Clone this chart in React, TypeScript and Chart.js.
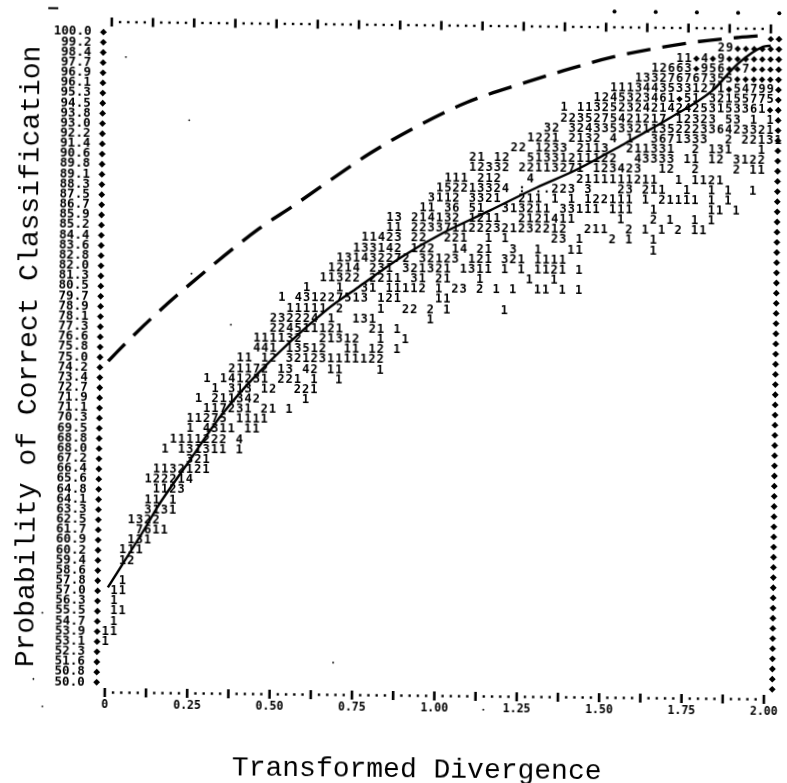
import React, { useEffect, useRef } from "react";
import { Chart, registerables } from "chart.js";

Chart.register(...registerables);

const ROW_STEP = 50 / 64;
const COL_STEP = 0.025;

const yRowLabels = [
  "100.0","99.2","98.4","97.7","96.9","96.1","95.3","94.5","93.8","93.0","92.2","91.4","90.6",
  "89.8","89.1","88.3","87.5","86.7","85.9","85.2","84.4","83.6","82.8","82.0","81.3","80.5",
  "79.7","78.9","78.1","77.3","76.6","75.8","75.0","74.2","73.4","72.7","71.9","71.1","70.3",
  "69.5","68.8","68.0","67.2","66.4","65.6","64.8","64.1","63.3","62.5","61.7","60.9","60.2",
  "59.4","58.6","57.8","57.0","56.3","55.5","54.7","53.9","53.1","52.3","51.6","50.8","50.0",
];
const xTickValues = [0, 0.25, 0.5, 0.75, 1, 1.25, 1.5, 1.75, 2];
const xTickLabels = ["0", "0.25", "0.50", "0.75", "1.00", "1.25", "1.50", "1.75", "2.00"];

const solidX = [0.006,0.122,0.151,0.255,0.338,0.448,0.66,0.757,0.884,1.01,1.154,1.295,1.415,1.564,1.693,1.825,1.902,1.977,2.0];
const solidY = [57.3,62.1,63.4,67.3,70.4,73.7,78.8,80.6,82.9,84.8,86.6,88.4,89.8,91.9,93.8,96.0,98.1,99.4,99.5];
const dashedX = [0,0.041,0.145,0.283,0.453,0.557,0.713,0.788,0.922,1.081,1.261,1.372,1.522,1.742,1.902,1.992];
const dashedY = [74.7,75.8,78.4,81.5,85.0,86.8,89.6,90.9,92.9,94.9,96.5,97.4,98.5,99.6,100.1,100.3];

// printed cells: [row index in yRowLabels, first column, printed text]; column 0 is x = 0, one column is 0.025
const printedCells: [number, number, string][] = [
  [0, 80, "*"],
  [1, 74, "29****"], [1, 80, "*"],
  [2, 69, "11*4*9******"],
  [3, 66, "12663*956**7***"],
  [4, 64, "133276767355*****"],
  [5, 61, "1113443533127" + "1*54799"],
  [6, 59, "1245323461*51 32155775"],
  [7, 55, "1 11325232421424253153361*"],
  [8, 55, "2235275421217 12323 53 1 1"],
  [9, 53, "32 324335332113522233642332" + "1"],
  [10, 51, "1221 2132 4 1  3671333  2 22131"],
  [11, 49, "22 1233 2113  211331  2 131   1"],
  [12, 44, "21 12  51331211122  43333 11 12 3122"],
  [13, 44, "12332 22113271 123423  12  2    2 11"],
  [14, 41, "111 212   4  " ],
  [14, 57, "2111111211  1 1121"],
  [15, 40, "152213324 : ..223 3   23 211  1  1 1  1"],
  [16, 39, "3112 3321  211 1 1 122111 1 21111 1 1"],
  [17, 38, "11 36 51  313211 33111 111  1      11 1"],
  [18, 34, "13 214132 1211  2121411     1   2 1  1 1"],
  [19, 34, "11 2233711222321232212  211  2 1 1 2 11"],
  [20, 31, "11423 22  221  1 1     23 1   2 1  1"],
  [21, 30, "133142 122  14 21  3  1   11        1"],
  [22, 28, "131432272 32123 121 321 1111"],
  [23, 27, "1214 231 321321 1311 1 1 1121 1"],
  [24, 26, "11322 2211 31 21   1     1  1"],
  [25, 24, "1   1  31 11112 1 23 2 1 1  11 1 1"],
  [26, 21, "1 431227513 121    11"],
  [27, 22, "11111 2    1  22 2 1      1"],
  [28, 20, "232224 1  131      1"],
  [29, 20, "224511121   21 1"],
  [30, 18, "111132  21312  1  1"],
  [31, 18, "441 13512  11 12 1"],
  [32, 16, "11 12 321231111122"],
  [33, 15, "21172 13 42 11    1"],
  [34, 12, "1 141231 221 1  1"],
  [35, 13, "1 313 12  221"],
  [36, 11, "1 211342     1"],
  [37, 12, "117231 21 1"],
  [38, 10, "11275 1111"],
  [39, 10, "1 4311 11"],
  [40, 8, "1111222 4"],
  [41, 7, "1 131311 1"],
  [42, 10, "321"],
  [43, 6, "1132121"],
  [44, 5, "122214"],
  [45, 6, "1123"],
  [46, 5, "11 1"],
  [47, 5, "3131"],
  [48, 3, "1322"],
  [49, 4, "7611"],
  [50, 3, "131"],
  [51, 2, "111"],
  [52, 2, "12"],
  [54, 2, "1"],
  [55, 1, "11"],
  [56, 1, "1"],
  [57, 1, "11"],
  [58, 1, "1"],
  [59, 0, "11"],
  [60, 0, "1"],
];

const frameColumns = Array.from({ length: 81 }, (_, i) => i);
const topSpotX = [1.525, 1.65, 1.775, 1.9, 2.025];
const topSpotY = [102, 102, 102, 102, 102];
const speckX = [0.044, 0.238, 0.25, 0.371, -0.192, 0.692, -0.217, -0.189, 1.149];
const speckY = [98.1, 93.3, 81.5, 77.6, 55.3, 51.7, 50.2, 48.1, 48.2];
const scanDashX = [-0.178];
const scanDashY = [101.8];

const rowValue = (r: number) => 100 - r * ROW_STEP;
const zip = (xs: number[], ys: number[]) => xs.map((x, i) => ({ x, y: ys[i] }));

const digitPoints: { x: number; y: number; ch: string }[] = [];
const starPoints: { x: number; y: number }[] = [];
for (const [row, col, text] of printedCells) {
  [...text].forEach((ch, i) => {
    if (ch === " ") return;
    const p = { x: (col + i) * COL_STEP, y: rowValue(row) };
    if (ch === "*") starPoints.push(p);
    else digitPoints.push({ ...p, ch });
  });
}

const digitLabels = {
  id: "digitLabels",
  afterDatasetsDraw(chart: any) {
    const ctx = chart.ctx;
    const { x: sx, y: sy } = chart.scales;
    ctx.save();
    ctx.fillStyle = "#000";
    chart.data.datasets.forEach((ds: any, i: number) => {
      if (ds.label !== "Printed counts") return;
      const meta = chart.getDatasetMeta(i);
      ctx.font = "bold 12px 'DejaVu Sans Mono'";
      ctx.textAlign = "center";
      ctx.textBaseline = "middle";
      meta.data.forEach((el: any, k: number) => ctx.fillText(ds.data[k].ch, el.x, el.y));
    });
    // marks that lie outside the plot frame
    const spot = (x: number, y: number, r: number) => {
      ctx.beginPath();
      ctx.arc(sx.getPixelForValue(x), sy.getPixelForValue(y), r, 0, Math.PI * 2);
      ctx.fill();
    };
    zip(topSpotX, topSpotY).forEach((p) => spot(p.x, p.y, 2));
    zip(speckX, speckY).forEach((p) => spot(p.x, p.y, 0.9));
    zip(scanDashX, scanDashY).forEach((p) => {
      ctx.fillRect(sx.getPixelForValue(p.x) - 5, sy.getPixelForValue(p.y) - 1, 10, 2);
    });
    ctx.restore();
  },
};

export default function App() {
  const ref = useRef<HTMLCanvasElement>(null);
  useEffect(() => {
    document.body.style.margin = "0";
    document.body.style.background = "#fff";
    document.body.style.overflow = "hidden";
    const dots = (data: any[], label: string, extra: any) => ({
      type: "scatter",
      label,
      data,
      clip: false,
      showLine: false,
      pointBackgroundColor: "#000",
      pointBorderColor: "#000",
      pointBorderWidth: 0,
      ...extra,
    });
    const frameRowPts = (y: number, ticks: boolean) =>
      frameColumns.filter((c) => (c % 5 === 0) === ticks).map((c) => ({ x: c * COL_STEP, y }));
    const leftPts = yRowLabels.map((_, r) => ({ x: -COL_STEP, y: rowValue(r) }));
    const rightPts = yRowLabels.map((_, r) => ({ x: 2 + COL_STEP, y: rowValue(r) }));
    const chart = new Chart(ref.current!, {
      type: "scatter",
      plugins: [digitLabels],
      data: {
        datasets: [
          dots(leftPts, "Left frame", { pointStyle: "rectRot", pointRadius: 3.4 }),
          dots(rightPts, "Right frame", { pointStyle: "rectRot", pointRadius: 3.4 }),
          dots(starPoints, "Printed stars", { pointStyle: "rectRot", pointRadius: 3.2 }),
          dots([...frameRowPts(100 + ROW_STEP, false), ...frameRowPts(50 - ROW_STEP, false)], "Frame dots", { pointStyle: "rect", pointRadius: 1.7 }),
          dots([...frameRowPts(100 + ROW_STEP, true), ...frameRowPts(50 - ROW_STEP, true)], "Frame ticks", { pointStyle: "line", rotation: 90, pointRadius: 4.5, pointBorderWidth: 2.6 }),
          dots(digitPoints, "Printed counts", { pointRadius: 0 }),
          {
            type: "line",
            label: "Fitted",
            data: zip(solidX, solidY),
            borderColor: "#000",
            borderWidth: 2.4,
            pointRadius: 0,
            cubicInterpolationMode: "monotone",
            clip: false,
          },
          {
            type: "line",
            label: "Bound",
            data: zip(dashedX, dashedY),
            borderColor: "#000",
            borderWidth: 3.4,
            borderDash: [24, 12],
            pointRadius: 0,
            cubicInterpolationMode: "monotone",
            clip: false,
          },
        ] as any,
      },
      options: {
        animation: false,
        responsive: false,
        layout: { padding: { top: 25, right: 6.7, left: 0, bottom: 0 } },
        plugins: { legend: { display: false }, tooltip: { enabled: false } },
        scales: {
          x: {
            type: "linear",
            min: -COL_STEP,
            max: 2 + COL_STEP,
            grid: { display: false, drawTicks: false },
            border: { display: false },
            afterFit: (s: any) => { s.height = 87.5; },
            afterBuildTicks: (s: any) => { s.ticks = xTickValues.map((value) => ({ value })); },
            ticks: {
              autoSkip: false,
              maxRotation: 0,
              padding: 6,
              color: "#000",
              font: { family: "'DejaVu Sans Mono'", weight: "bold", size: 11.5 },
              callback: (_v: any, i: number) => xTickLabels[i],
            },
            title: {
              display: true,
              text: "Transformed Divergence  ",
              color: "#000",
              font: { family: "'Liberation Mono'", size: 28 },
              padding: { top: 0, bottom: -3 },
            },
          },
          y: {
            type: "linear",
            min: 50 - ROW_STEP,
            max: 100 + ROW_STEP,
            grid: { display: false, drawTicks: false },
            border: { display: false },
            afterFit: (s: any) => { s.width = 99.7; },
            afterBuildTicks: (s: any) => { s.ticks = yRowLabels.map((_, r) => ({ value: rowValue(r) })); },
            ticks: {
              autoSkip: false,
              padding: 12,
              color: "#000",
              font: { family: "'DejaVu Sans Mono'", weight: "bold", size: 12.5 },
              callback: (_v: any, i: number) => yRowLabels[i],
            },
            title: {
              display: true,
              text: "Probability of Correct Classification",
              color: "#000",
              font: { family: "'Liberation Mono'", size: 28 },
              padding: { top: 12, bottom: 0 },
            },
          },
        },
      } as any,
    });
    return () => chart.destroy();
  }, []);
  return (
    <canvas
      ref={ref}
      width={787}
      height={783}
      style={{ position: "fixed", left: 0, top: 0, display: "block", transform: "rotate(0.6deg)", transformOrigin: "393px 391px" }}
    />
  );
}
